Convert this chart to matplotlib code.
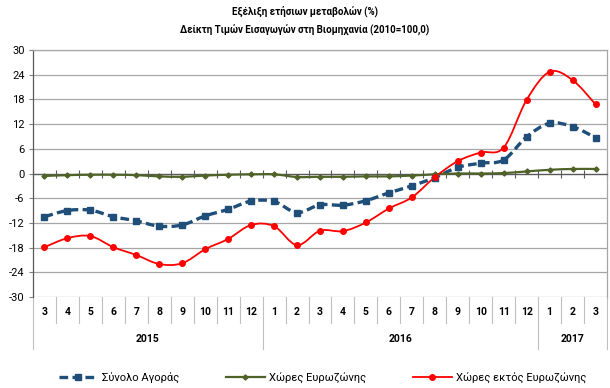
import numpy as np
import matplotlib
matplotlib.use("Agg")
import matplotlib.pyplot as plt
from matplotlib.path import Path
from matplotlib.patches import PathPatch
from matplotlib.lines import Line2D
import matplotlib.transforms as mtransforms

plt.rcParams['font.family'] = ['Roboto', 'DejaVu Sans']

months = ["3", "4", "5", "6", "7", "8", "9", "10", "11", "12",
          "1", "2", "3", "4", "5", "6", "7", "8", "9", "10", "11", "12",
          "1", "2", "3"]
years = ["2015", "2016", "2017"]
year_counts = [10, 12, 3]

total_market = [-10.5, -9.0, -8.9, -10.5, -11.5, -12.8, -12.5, -10.3, -8.7, -6.7,
                -6.8, -9.5, -7.6, -7.7, -6.6, -4.7, -3.0, -1.0, 1.5, 2.5, 3.3, 8.9,
                12.2, 11.4, 8.7]
eurozone = [-0.6, -0.4, -0.3, -0.3, -0.4, -0.7, -0.8, -0.5, -0.3, -0.2,
            -0.2, -0.85, -0.8, -0.8, -0.7, -0.7, -0.5, -0.2, 0.0, 0.0, 0.1, 0.5,
            0.9, 1.1, 1.1]
non_eurozone = [-17.9, -15.7, -15.2, -17.9, -19.8, -22.0, -21.8, -18.4, -15.9, -12.5,
                -12.8, -17.4, -13.9, -14.0, -11.9, -8.5, -5.8, -0.9, 3.0, 5.1, 6.3, 17.9,
                24.7, 22.7, 16.8]

labels = ["Σύνολο Αγοράς", "Χώρες Ευρωζώνης", "Χώρες εκτός Ευρωζώνης"]
title = "Εξέλιξη ετήσιων μεταβολών (%)\nΔείκτη Τιμών Εισαγωγών στη Βιομηχανία (2010=100,0)"
yticks = list(range(-30, 31, 6))

W, H = 610, 388
fig = plt.figure(figsize=(W / 100, H / 100), dpi=100)
ax = fig.add_axes([33 / W, 1 - 297 / H, (607 - 33) / W, (297 - 50) / H])

n = len(months)
x = np.arange(n)


def smooth_path(xs, ys):
    xs = np.asarray(xs, float)
    ys = np.asarray(ys, float)
    pts = np.column_stack([xs, ys])
    verts = [pts[0]]
    codes = [Path.MOVETO]
    for i in range(len(pts) - 1):
        p0 = pts[i - 1] if i > 0 else pts[i]
        p1 = pts[i]
        p2 = pts[i + 1]
        p3 = pts[i + 2] if i + 2 < len(pts) else pts[i + 1]
        c1 = p1 + (p2 - p0) / 6.0
        c2 = p2 - (p3 - p1) / 6.0
        verts += [c1, c2, p2]
        codes += [Path.CURVE4] * 3
    return Path(verts, codes)


series = [
    (total_market, '#1f4e79', 2.4, (0, (2.6, 1.3)), 's', 3.8),
    (eurozone, '#4f6228', 1.6, '-', 'D', 2.6),
    (non_eurozone, '#ff0000', 1.3, '-', 'o', 4.0),
]

handles = []
for (vals, col, lw, ls, mk, ms), lab in zip(series, labels):
    patch = PathPatch(smooth_path(x, vals), facecolor='none', edgecolor=col,
                      lw=lw, linestyle=ls, zorder=3, capstyle='butt')
    ax.add_patch(patch)
    ax.plot(x, vals, linestyle='none', marker=mk, ms=ms, color=col,
            markeredgecolor=col, zorder=4)
    handles.append(Line2D([], [], color=col, lw=lw, linestyle=ls, marker=mk,
                          ms=ms, markeredgecolor=col))

ax.set_xlim(-0.5, n - 0.5)
ax.set_ylim(-30, 30)
ax.set_yticks(yticks)
ax.set_yticklabels([str(v) for v in yticks], fontsize=8)
ax.tick_params(axis='y', length=3, width=0.8, color='#808080', pad=3)
ax.yaxis.grid(True, color='#a6a6a6', lw=0.9)
ax.set_axisbelow(True)

# category axis crossing at 0
ax.spines['bottom'].set_position(('data', 0))
ax.spines['bottom'].set_color('#595959')
ax.spines['bottom'].set_linewidth(0.9)
ax.spines['bottom'].set_zorder(2.5)
ax.set_xticks(np.arange(n + 1) - 0.5)
ax.set_xticklabels([])
ax.tick_params(axis='x', direction='inout', length=6, width=0.8, color='#595959')
ax.spines['left'].set_color('#595959')
ax.spines['top'].set_color('#a6a6a6')
ax.spines['right'].set_color('#a6a6a6')
for s in ['left', 'top', 'right']:
    ax.spines[s].set_linewidth(0.9)

# bottom multi-level category labels
trans = mtransforms.blended_transform_factory(ax.transData, fig.transFigure)
def fy(py):
    return 1 - py / H

for i, m in enumerate(months):
    ax.text(i, fy(312), m, transform=trans, ha='center', va='center',
            fontsize=7.5, fontweight='bold', color='#000000')
boundaries = np.arange(n + 1) - 0.5
year_edges = np.concatenate([[0], np.cumsum(year_counts)]) - 0.5
for b in boundaries:
    if np.any(np.isclose(year_edges, b)):
        y1 = fy(349)
    else:
        y1 = fy(323)
    ax.plot([b, b], [fy(297), y1], transform=trans, color='#bfbfbf', lw=0.8,
            clip_on=False)
for k, yr in enumerate(years):
    c = (year_edges[k] + year_edges[k + 1]) / 2
    ax.text(c, fy(339), yr, transform=trans, ha='center', va='center',
            fontsize=7.5, fontweight='bold')

fig.text(0.5, fy(21), title, ha='center', va='center', fontsize=7,
         fontweight='bold', linespacing=1.9)

fig.legend(handles, labels, loc='center', bbox_to_anchor=(0.529, fy(378)),
           ncol=3, frameon=False, fontsize=8, handlelength=3.5,
           columnspacing=4.2, handletextpad=0.4)

fig.savefig('out.png', dpi=100)
